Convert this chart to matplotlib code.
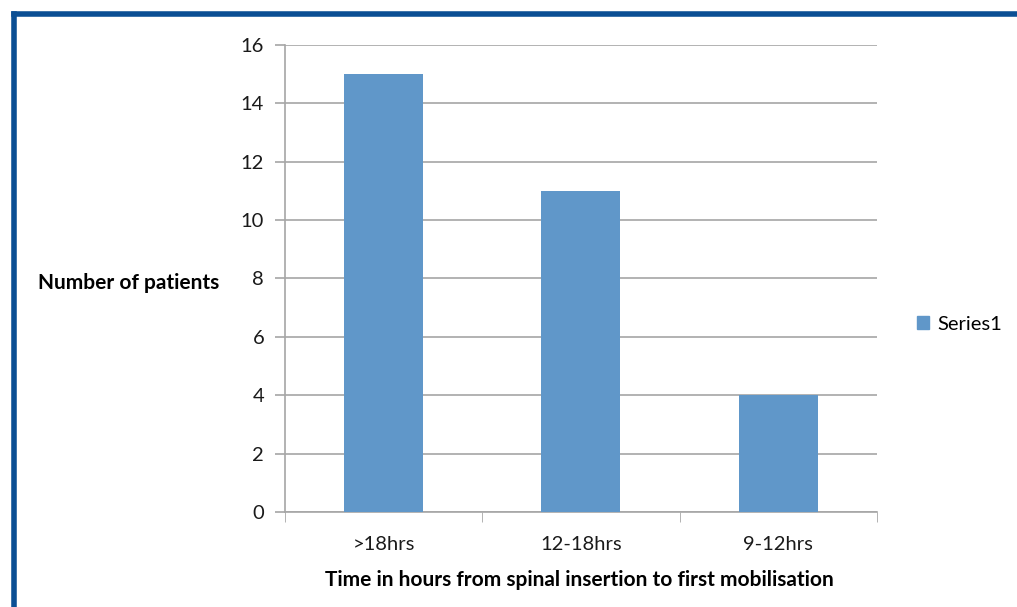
import matplotlib
matplotlib.use('Agg')
import matplotlib.pyplot as plt
from matplotlib.lines import Line2D
from matplotlib.patches import Patch
import numpy as np

categories = ['>18hrs', '12-18hrs', '9-12hrs']
patients = [15, 11, 4]
yticks = [0, 2, 4, 6, 8, 10, 12, 14, 16]

BAR = '#6097c9'
GRID = '#a6a6a6'
BORDER = '#0b4f94'

plt.rcParams['font.family'] = ['Lato', 'DejaVu Sans']

fig = plt.figure(figsize=(10.17, 6.07), dpi=100)
ax = fig.add_axes([0.2802, 0.1565, 0.5821, 0.7694])

x = np.arange(len(categories))
ax.bar(x, patients, width=0.4, color=BAR, zorder=3)

ax.set_xlim(-0.5, len(categories) - 0.5)
ax.set_ylim(0, 16)
ax.set_yticks(yticks)
ax.set_yticklabels([str(v) for v in yticks], fontsize=14.5, color='#1a1a1a')
ax.yaxis.grid(True, color=GRID, linewidth=1.2, zorder=0)

# category labels centred, tick marks at the category boundaries
ax.set_xticks(x)
ax.set_xticklabels(categories, fontsize=14.5, color='#1a1a1a')
ax.tick_params(axis='x', length=0, pad=17)
ax.set_xticks(np.arange(-0.5, len(categories)), minor=True)
ax.tick_params(axis='x', which='minor', length=7, color=GRID, direction='out')
ax.tick_params(axis='y', length=7, color=GRID, width=1.2, pad=8)

for s in ['top', 'right']:
    ax.spines[s].set_visible(False)
for s in ['left', 'bottom']:
    ax.spines[s].set_color(GRID)
    ax.spines[s].set_linewidth(1.2)

fig.text(38 / 1017, 1 - 283 / 607, 'Number of patients', fontsize=15,
         fontweight='bold', ha='left', va='center')
fig.text(579 / 1017, 1 - 580 / 607,
         'Time in hours from spinal insertion to first mobilisation',
         fontsize=15, fontweight='bold', ha='center', va='center')

fig.legend(handles=[Patch(color=BAR, label='Series1')], loc='center left',
           bbox_to_anchor=(899 / 1017, 1 - 324 / 607), frameon=False,
           fontsize=14.5, handlelength=0.6, handleheight=0.6, handletextpad=0.4)

# dark blue frame along top and left
fig.add_artist(Line2D([13.5 / 1017, 13.5 / 1017], [0, 1 - 13.5 / 607],
                      transform=fig.transFigure, color=BORDER, linewidth=4,
                      solid_capstyle='projecting'))
fig.add_artist(Line2D([13.5 / 1017, 1], [1 - 13.5 / 607, 1 - 13.5 / 607],
                      transform=fig.transFigure, color=BORDER, linewidth=4,
                      solid_capstyle='projecting'))

fig.savefig('out.png', dpi=100)
